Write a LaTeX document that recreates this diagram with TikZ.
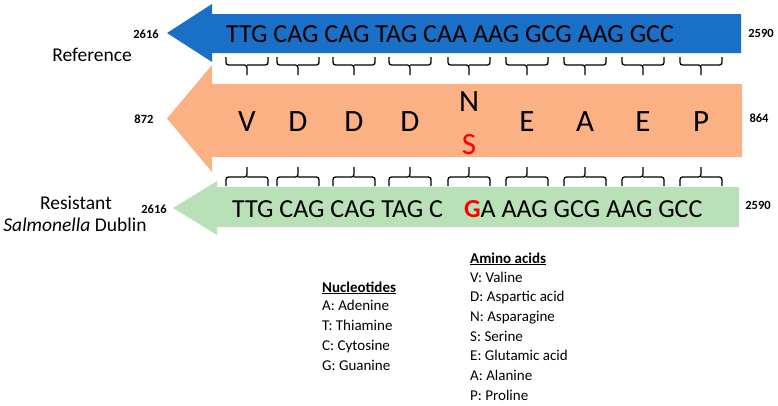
\documentclass[tikz,border=0pt]{standalone}
\usepackage{fontspec}
\setmainfont{Carlito}
\definecolor{refblue}{HTML}{1A70C6}
\definecolor{aaorange}{HTML}{FBB183}
\definecolor{resgreen}{HTML}{B9E0B6}
\tikzset{
  numlabel/.style={font=\fontsize{12.5}{14}\selectfont\bfseries, inner sep=0pt},
  rowlabel/.style={font=\fontsize{19.5}{22}\selectfont, inner sep=0pt},
  seqtext/.style={font=\fontsize{26}{28}\selectfont, anchor=west, inner sep=0pt},
  aaletter/.style={font=\fontsize{31}{32}\selectfont, inner sep=0pt},
  codon/.style={line width=1.3pt, rounded corners=2.5pt},
  legendtext/.style={font=\fontsize{15}{17}\selectfont, anchor=base west, inner sep=0pt},
}
\begin{document}
\begin{tikzpicture}[x=1pt, y=-1pt]
    \useasboundingbox (0,0) rectangle (778,405);

    % --- 定义参数 ---
    \def\headx{212}      % 箭头头部底边
    \def\tipx{167}       % 箭头尖端
    \def\rightx{741}     % 矩形右边

    % --- 参考序列 (蓝色箭头) ---
    \fill[refblue] (\rightx,14) -- (\headx,14) -- (\headx,4) -- (\tipx,33)
        -- (\headx,62) -- (\headx,53) -- (\rightx,53) -- cycle;
    \node[seqtext] (refseq) at (226,34) {TTG CAG CAG TAG CAA AAG GCG AAG GCC};
    \node[numlabel] (refstart) at (146,34) {2616};
    \node[numlabel] (refend) at (761,33) {2590};
    \node[rowlabel] (reflabel) at (92,55) {Reference};

    % --- 氨基酸 (橙色箭头) ---
    \fill[aaorange] (742,84) -- (\headx,84) -- (\headx,65) -- (\tipx,118.5)
        -- (\headx,172) -- (\headx,157) -- (742,157) -- cycle;
    \node[numlabel] (aastart) at (144,119) {872};
    \node[numlabel] (aaend) at (759,118) {864};
    \foreach \aa/\ax [count=\i] in {V/247,D/298,D/354,D/410,E/527,A/585,E/643,P/701}
        \node[aaletter] (aa\i) at (\ax,122) {\aa};
    \node[aaletter] (aaN) at (469,101.5) {N};
    \node[aaletter, text=red] (aaS) at (469,145) {S};

    % --- 耐药菌序列 (绿色箭头) ---
    \fill[resgreen] (739,187) -- (217,187) -- (217,181) -- (173,208)
        -- (217,235) -- (217,227) -- (739,227) -- cycle;
    \node[seqtext] (resseq) at (232,209.5)
        {TTG CAG CAG TAG C\hspace{21pt}\textcolor{red}{\textbf{G}}A AAG GCG AAG GCC};
    \node[numlabel] (resstart) at (154,209) {2616};
    \node[numlabel] (resend) at (758,205) {2590};
    \node[rowlabel] (reslabel) at (76,203) {Resistant};
    \node[rowlabel] (resname) at (75,225) {\textit{Salmonella} Dublin};

    % --- 密码子括号 ---
    \foreach \bx in {247,298,354,410,469,527,585,643,701} {
        % 上排: 开口向上
        \draw[codon] ({\bx-21},57) |- (\bx,65) -- (\bx,75);
        \draw[codon] (\bx,65) -| ({\bx+21},57);
        % 下排: 开口向下
        \draw[codon] ({\bx-21},186) |- (\bx,177) -- (\bx,167);
        \draw[codon] (\bx,177) -| ({\bx+21},186);
    }

    % --- 图例 ---
    \node[legendtext] (nuchead) at (322,292) {\underline{\textbf{Nucleotides}}};
    \foreach \line [count=\i] in {A: Adenine, T: Thiamine, C: Cytosine, G: Guanine}
        \node[legendtext] (nuc\i) at (322,{310+20.3*(\i-1)}) {\line};
    \node[legendtext] (aahead) at (470,263) {\underline{\textbf{Amino acids}}};
    \foreach \line [count=\i] in {V: Valine, D: Aspartic acid, N: Asparagine, S: Serine,
                                  E: Glutamic acid, A: Alanine, P: Proline}
        \node[legendtext] (aal\i) at (470,{282+19.7*(\i-1)}) {\line};

\end{tikzpicture}
\end{document}
